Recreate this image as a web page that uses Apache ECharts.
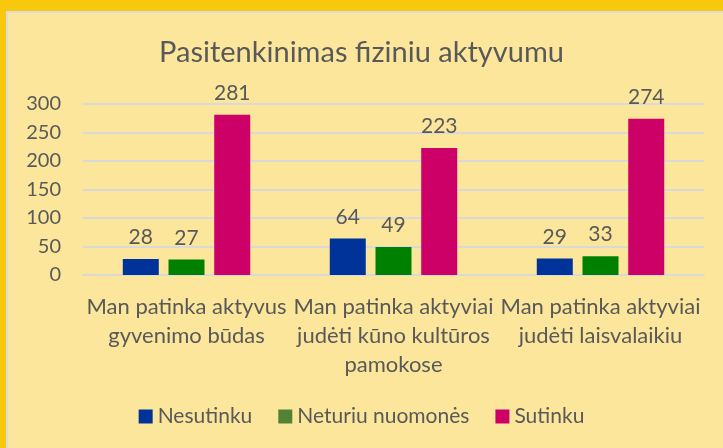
<!DOCTYPE html>
<html>
<head>
<meta charset="utf-8">
<script src="https://cdn.jsdelivr.net/npm/echarts@6/dist/echarts.min.js"></script>
<style>
  html, body { margin: 0; padding: 0; background: #FBE69B; }
  #chart { width: 723px; height: 448px; }
</style>
</head>
<body>
<div id="chart"></div>
<script>
const categories = [
  'Man patinka aktyvus\ngyvenimo būdas',
  'Man patinka aktyviai\njudėti kūno kultūros\npamokose',
  'Man patinka aktyviai\njudėti laisvalaikiu'
]
const seriesNames = ['Nesutinku', 'Neturiu nuomonės', 'Sutinku']
const nesutinku = [28, 64, 29]
const neturiu = [27, 49, 33]
const sutinku = [281, 223, 274]
const barColors = ['#003399', '#008000', '#CC0066']
const legendColors = ['#003399', '#548235', '#CC0066']

const font = 'Lato, "Liberation Sans", sans-serif'
const chart = echarts.init(document.getElementById('chart'))

function makeSeries(name, data, color) {
  return {
    name: name,
    type: 'bar',
    data: data,
    barWidth: 36,
    barGap: '27%',
    itemStyle: { color: color },
    label: {
      show: true,
      position: 'top',
      distance: 11,
      color: '#595959',
      fontSize: 21,
      fontFamily: font
    }
  }
}

chart.setOption({
  backgroundColor: '#FBE69B',
  animation: false,
  graphic: [
    { type: 'rect', left: 0, top: 0, shape: { width: 723, height: 11 }, style: { fill: '#F8C80C' } },
    { type: 'rect', left: 0, top: 0, shape: { width: 6, height: 448 }, style: { fill: '#F8C80C' } },
    { type: 'rect', left: 6, top: 11, shape: { width: 717, height: 2 }, style: { fill: '#DCDCDC' } },
    { type: 'rect', left: 6, top: 11, shape: { width: 2, height: 437 }, style: { fill: '#DCDCDC' } }
  ],
  title: {
    text: 'Pasitenkinimas fiziniu aktyvumu',
    left: 'center',
    top: 33,
    textStyle: { fontSize: 29, fontWeight: 'normal', color: '#595959', fontFamily: font }
  },
  legend: {
    bottom: 16,
    left: 'center',
    itemWidth: 14,
    itemHeight: 14,
    itemGap: 26,
    icon: 'rect',
    textStyle: { fontSize: 21, color: '#595959', fontFamily: font },
    data: seriesNames.map((n, i) => ({ name: n, itemStyle: { color: legendColors[i] } }))
  },
  grid: { left: 83, right: 19, top: 104, bottom: 173 },
  xAxis: {
    type: 'category',
    data: categories,
    axisTick: { show: false },
    axisLine: { lineStyle: { color: '#D9D9D9', width: 2 } },
    axisLabel: {
      color: '#595959',
      fontSize: 22,
      fontFamily: font,
      lineHeight: 29,
      margin: 17,
      interval: 0
    }
  },
  yAxis: {
    type: 'value',
    min: 0,
    max: 300,
    interval: 50,
    axisLine: { show: false },
    axisTick: { show: false },
    splitLine: { lineStyle: { color: '#D9D9D9', width: 2 } },
    axisLabel: { color: '#595959', fontSize: 20, fontFamily: font, margin: 22 }
  },
  series: [
    makeSeries(seriesNames[0], nesutinku, barColors[0]),
    makeSeries(seriesNames[1], neturiu, barColors[1]),
    makeSeries(seriesNames[2], sutinku, barColors[2])
  ]
})
</script>
</body>
</html>
